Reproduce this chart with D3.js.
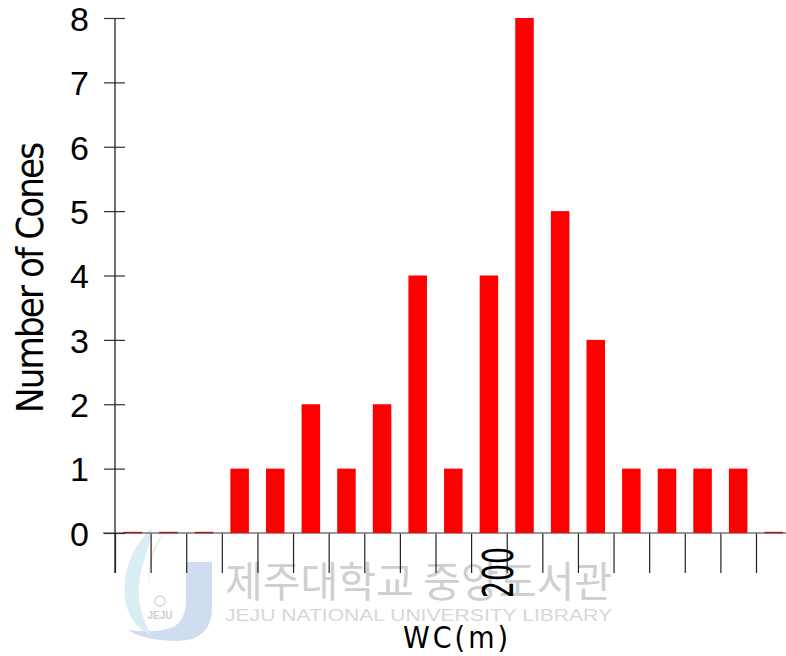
<!DOCTYPE html>
<html>
<head>
<meta charset="utf-8">
<script src="https://cdn.jsdelivr.net/npm/d3@7"></script>
<style>
  html, body { margin: 0; padding: 0; background: #fff; }
  svg { display: block; }
</style>
</head>
<body>
<svg id="chart" width="786" height="656"></svg>
<script>
// ---- data ----
const binIndex = d3.range(0, 19);                 // 19 WC classes
const counts   = [0, 0, 0, 1, 1, 2, 1, 2, 4, 1, 4, 8, 5, 3, 1, 1, 1, 1, 0];
const yTicks   = [0, 1, 2, 3, 4, 5, 6, 7, 8];
const xTickAt  = [11];
const xTickLabels = ["200"];
const yTitle = "Number of Cones";
const xTitle = "WC(m)";

(function () {
// ---- layout ----
const svg = d3.select("#chart");
const pLeft = 115, pRight = 791.6, pTop = 18, pBottom = 533;

const x = d3.scaleLinear().domain([0, binIndex.length]).range([pLeft, pRight]);
const y = d3.scaleLinear().domain([0, 8]).range([pBottom, pTop]);
const bw = x(1) - x(0);
const barW = bw * 0.52;

const narrow = "'Liberation Sans Narrow', 'DejaVu Sans Condensed', 'Liberation Sans', sans-serif";

// ---- watermark (faint, underneath) ----
const wm = svg.append("g").attr("class", "watermark").attr("opacity", 0.5);
wm.append("path")
  .attr("d", "M186,562 L212,562 L212,608 Q212,640 178,641 Q145,641 128,630 Q160,634 175,626 Q186,618 186,600 Z")
  .attr("fill", "#a3bde3");
wm.append("path")
  .attr("d", "M152,527 Q118,562 126,604 Q131,626 152,636 Q132,604 142,566 Q150,546 152,527 Z")
  .attr("fill", "#b3dcea");
wm.append("path")
  .attr("d", "M166,532 Q146,556 150,590 Q144,560 160,538 Z")
  .attr("fill", "#cfe2a8");
wm.append("circle").attr("cx", 160).attr("cy", 601).attr("r", 5)
  .attr("fill", "none").attr("stroke", "#b0b0b0").attr("stroke-width", 1.5);
wm.append("text").attr("x", 160).attr("y", 619).attr("text-anchor", "middle")
  .attr("font-family", "'Liberation Sans', sans-serif").attr("font-size", 10)
  .attr("font-weight", "bold").attr("fill", "#a0a0a0").text("JEJU");
wm.append("text").attr("x", 225).attr("y", 597)
  .attr("font-family", "'Noto Sans CJK KR', sans-serif").attr("font-size", 42)
  .attr("fill", "#a0a0a0").attr("textLength", 387).attr("lengthAdjust", "spacingAndGlyphs")
  .text("제주대학교 중앙도서관");
wm.append("text").attr("x", 225).attr("y", 621)
  .attr("font-family", "'Liberation Sans', sans-serif").attr("font-size", 17)
  .attr("fill", "#b0b0b0").attr("textLength", 387).attr("lengthAdjust", "spacingAndGlyphs")
  .text("JEJU NATIONAL UNIVERSITY  LIBRARY");

// ---- x axis ticks ----
const xAxis = d3.axisBottom(x)
  .tickValues(binIndex)
  .tickSize(40)
  .tickFormat("");
const gx = svg.append("g").attr("transform", `translate(0,${pBottom})`).call(xAxis);
gx.select(".domain").remove();
gx.selectAll(".tick line").attr("stroke", "#222").attr("stroke-width", 1.2);

// x axis baseline
svg.append("line")
  .attr("x1", 103).attr("x2", 786).attr("y1", pBottom).attr("y2", pBottom)
  .attr("stroke", "#777").attr("stroke-width", 1.3);

// ---- bars ----
svg.append("g").selectAll("rect")
  .data(binIndex)
  .join("rect")
  .attr("x", i => x(i) + (bw - barW) / 2)
  .attr("width", barW)
  .attr("y", i => counts[i] > 0 ? y(counts[i]) : pBottom - 1.2)
  .attr("height", i => counts[i] > 0 ? y(0) - y(counts[i]) : 1.6)
  .attr("fill", i => counts[i] > 0 ? "#ff0000" : "#a02020");

// ---- y axis ----
const yAxis = d3.axisLeft(y).tickValues(yTicks).tickSize(11).tickPadding(15).tickFormat(d3.format("d"));
const gy = svg.append("g").attr("transform", `translate(${pLeft},0)`).call(yAxis);
gy.select(".domain").remove();
gy.selectAll(".tick line").attr("x1", 10).attr("stroke", "#333").attr("stroke-width", 1.2);
gy.selectAll(".tick text")
  .attr("font-family", "'Liberation Sans', Arial, sans-serif")
  .attr("font-size", 34)
  .attr("fill", "#000")
  .attr("dy", "0.36em");
svg.append("line")
  .attr("x1", pLeft).attr("x2", pLeft).attr("y1", pTop).attr("y2", pBottom + 40)
  .attr("stroke", "#222").attr("stroke-width", 1.3);

// ---- x tick labels (rotated) ----
svg.append("g").selectAll("text")
  .data(xTickAt)
  .join("text")
  .attr("transform", d => `translate(${x(d) + 6.5},547) rotate(-90)`)
  .attr("text-anchor", "end")
  .attr("font-family", narrow)
  .attr("font-size", 43)
  .attr("fill", "#000")
  .attr("textLength", 51)
  .attr("lengthAdjust", "spacingAndGlyphs")
  .text((d, i) => xTickLabels[i]);

// ---- titles ----
svg.append("text")
  .attr("transform", `translate(43,277.5) rotate(-90)`)
  .attr("text-anchor", "middle")
  .attr("font-family", narrow)
  .attr("font-size", 38)
  .attr("fill", "#000")
  .attr("textLength", 271)
  .attr("lengthAdjust", "spacing")
  .text(yTitle);

svg.append("text")
  .attr("x", 403).attr("y", 648)
  .attr("font-family", narrow)
  .attr("font-size", 30)
  .attr("fill", "#000")
  .attr("textLength", 105)
  .attr("lengthAdjust", "spacing")
  .text(xTitle);
})();
</script>
</body>
</html>
